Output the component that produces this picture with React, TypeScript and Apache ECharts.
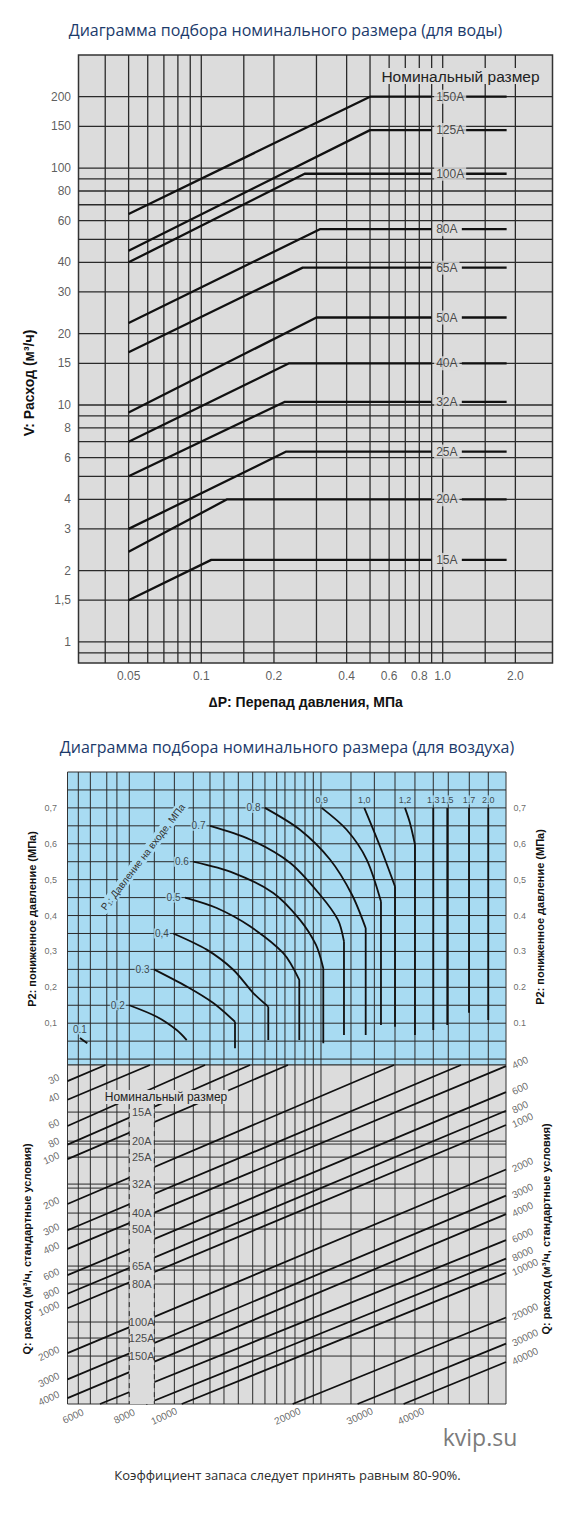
import React, { useEffect, useRef } from 'react';
import * as echarts from 'echarts';

const SANS = '"Liberation Sans", Arial, sans-serif';
const HEAD = '"Open Sans", "Noto Sans", sans-serif';
const INK = '#111111';
const GREY_BG = '#dcdcdc';
const BLUE_BG = '#a8dbf2';
const RULE = '#2a2a2a';

// ---------- water: flow V (m³/h) against pressure drop ΔP (MPa) ----------
const waterSizes = ['15A', '20A', '25A', '32A', '40A', '50A', '65A', '80A', '100A', '125A', '150A'];
const waterStartFlow = [1.5, 2.4, 3.0, 5.0, 7.0, 9.3, 16.7, 22.2, 40, 44.8, 64];
const waterKneeDp = [0.11, 0.128, 0.225, 0.221, 0.231, 0.3, 0.263, 0.31, 0.268, 0.5, 0.5];
const waterMaxFlow = [2.22, 4.0, 6.36, 10.3, 15, 23.4, 38, 55.2, 94.6, 144.6, 200];
const waterDpStart = 0.05;
const waterDpLabel = 0.9;
const waterDpTail = [1.2, 1.84];
const waterXRange = [0.031, 2.85];
const waterYRange = [0.815, 300];
const waterXTicks = [0.05, 0.1, 0.2, 0.4, 0.6, 0.8, 1.0, 2.0];
const waterXTickText = ['0.05', '0.1', '0.2', '0.4', '0.6', '0.8', '1.0', '2.0'];
const waterYTicks = [1, 1.5, 2, 3, 4, 6, 8, 10, 15, 20, 30, 40, 60, 80, 100, 150, 200];
const waterYTickText = ['1', '1,5', '2', '3', '4', '6', '8', '10', '15', '20', '30', '40', '60', '80', '100', '150', '200'];
const waterXRules = [0.04, 0.05, 0.06, 0.07, 0.08, 0.09, 0.1, 0.15, 0.2, 0.3, 0.4, 0.5, 0.6, 0.7, 0.8, 0.9, 1.0, 1.5, 2.0];
const waterYRules = [0.9, 1, 1.5, 2, 3, 4, 5, 6, 7, 8, 9, 10, 15, 20, 30, 40, 50, 60, 70, 80, 90, 100, 150, 200];

// ---------- air: shared horizontal scale of the nomogram ----------
const airXRange = [4898, 75845];
const airXRules = [5240, 5650, 6260, 6670, 7205, 8426, 9550, 10750, 11930, 13020, 14240, 15580, 16820, 18100,
  19060, 20290, 21600, 22750, 23870, 28790, 33320, 37910, 42940, 48150, 52880, 60300, 67900];

// upper panel: outlet pressure P2 (MPa) and inlet pressure curves P1
const p2Range = [-0.0165, 0.8];
const p2Rules = [0, 0.05, 0.1, 0.15, 0.2, 0.25, 0.3, 0.35, 0.4, 0.45, 0.5, 0.55, 0.6, 0.65, 0.7, 0.75];
const p2Ticks = [0.1, 0.2, 0.3, 0.4, 0.5, 0.6, 0.7];
const p2LeftText = ['0,1', '0,2', '0,3', '0,4', '0,5', '0,6', '0,7'];
const p2RightText = ['0.1', '0.2', '0.3', '0.4', '0,5', '0,6', '0,7'];
const p1Names = ['0.1', '0,2', '0.3', '0,4', '0.5', '0.6', '0.7', '0.8', '0,9', '1,0', '1,2', '1,3', '1,5', '1.7', '2.0'];
const p1LabelSide = ['top', 'left', 'left', 'left', 'left', 'left', 'left', 'left', 'top', 'top', 'top', 'top', 'top', 'top', 'top'];
const p1Curves: [number, number][][] = [
  [[5295, 0.059], [5543, 0.044]],
  [[7205, 0.15], [8552, 0.118], [9689, 0.081], [10316, 0.053]],
  [[8409, 0.25], [10316, 0.202], [12180, 0.156], [13949, 0.104]],
  [[9486, 0.35], [11688, 0.305], [13801, 0.249], [15637, 0.184], [17174, 0.146]],
  [[10207, 0.45], [12442, 0.421], [15320, 0.37], [18863, 0.295], [20844, 0.221]],
  [[10749, 0.55], [13801, 0.519], [17720, 0.463], [20935, 0.388], [23138, 0.318], [24217, 0.253]],
  [[11932, 0.65], [15320, 0.612], [19668, 0.547], [23722, 0.458], [26545, 0.388], [27559, 0.328]],
  [[16822, 0.7], [20935, 0.639], [25255, 0.556], [28973, 0.458], [31564, 0.365]],
  [[23976, 0.7], [28028, 0.639], [31762, 0.556], [34726, 0.439]],
  [[31289, 0.7], [34510, 0.593], [37909, 0.481]],
  [[40343, 0.7], [41623, 0.658], [42944, 0.598]],
  [[48153, 0.7]],
  [[52549, 0.7]],
  [[60188, 0.7]],
  [[67897, 0.7]],
];
// lowest P2 reached by the straight drop that ends each curve
const p1DropFoot: (number | null)[] = [null, null, 0.03, 0.053, 0.053, 0.044, 0.067, 0.067, 0.095, 0.09, 0.067, 0.081, 0.095, 0.129, 0.109];

// lower panel: valve size rows and flow Q isolines (m³/h, standard conditions)
const qRange = [23.4, 4385];
const qRightRange = [394, 76900];
const qBottomTickRange = [5800, 68000];
const airSizes = ['15A', '20A', '25A', '32A', '40A', '50A', '65A', '80A', '100A', '125A', '150A'];
const airSizeLevel = [48.4, 75.8, 97, 147.1, 230.1, 294.6, 521.4, 688.4, 1237, 1584, 2092];
const airPairedRules = [79.3, 156.5, 554.6];
const airLabelX = 7786;
const airColumn = [7205, 8426];
const airColumnTop = 42.8;
const qLeft = [30, 40, 60, 80, 100, 200, 300, 400, 600, 800, 1000, 2000, 3000, 4000];
const qBottom = [6000, 8000, 10000, 20000, 30000, 40000];
const qRight = [400, 600, 800, 1000, 2000, 3000, 4000, 6000, 8000, 10000, 20000, 30000, 40000];
const qTopExitX = [6210, 8200, 11570, 15320, 19420, 37680, 57250];
const qRightExitLevel = [23.8, 35.6, 47.4, 59.1, 117.5, 175.7, 233.7, 349.4, 464.9, 579.9, 1153, 1725, 2294];

type Pt = [number, number] | '-';

function rules(xs: number[], ys: number[], xr: number[], yr: number[]): Pt[] {
  const out: Pt[] = [];
  xs.forEach((v) => out.push([v, yr[0]], [v, yr[1]], '-'));
  ys.forEach((v) => out.push([xr[0], v], [xr[1], v], '-'));
  return out;
}

function lineSeries(xi: number, yi: number, data: Pt[], color: string, width: number, z: number, extra: any = {}) {
  return {
    type: 'line', xAxisIndex: xi, yAxisIndex: yi, data, z, silent: true,
    symbol: 'none', showSymbol: false, connectNulls: false,
    lineStyle: { color, width, ...(extra.lineStyle || {}) },
    emphasis: { disabled: true },
    smooth: extra.smooth || false,
  };
}

function textSeries(xi: number, yi: number, pts: [number, number][], texts: string[], label: any, z = 8, perItem?: any[]) {
  return {
    type: 'scatter', xAxisIndex: xi, yAxisIndex: yi, z, silent: true, clip: false,
    symbolSize: 1, itemStyle: { color: 'rgba(0,0,0,0)' },
    data: pts.map((p, i) => ({ name: texts[i], value: p, ...(perItem ? { label: perItem[i] } : {}) })),
    label: { show: true, formatter: '{b}', fontFamily: SANS, ...label },
    emphasis: { disabled: true },
  };
}

function caption(text: string, x: number, y: number, style: any, rotation = 0) {
  return {
    type: 'text', x, y, rotation, z: 100, silent: true,
    style: {
      text, align: 'center', verticalAlign: 'middle', textAlign: 'center', textVerticalAlign: 'middle',
      fontFamily: SANS, ...style,
    },
  };
}

function buildOption(): any {
  // water curves: rising part, flat part up to the size label, flat tail after it
  const waterLines: Pt[] = [];
  waterSizes.forEach((_, i) => {
    waterLines.push(
      [waterDpStart, waterStartFlow[i]], [waterKneeDp[i], waterMaxFlow[i]], [waterDpLabel, waterMaxFlow[i]], '-',
      [waterDpTail[0], waterMaxFlow[i]], [waterDpTail[1], waterMaxFlow[i]], '-',
    );
  });

  // inlet pressure curves
  const p1Lines: Pt[] = [];
  p1Curves.forEach((curve, i) => {
    curve.forEach((p) => p1Lines.push(p));
    p1Lines.push('-');
    const foot = p1DropFoot[i];
    if (foot != null) {
      const last = curve[curve.length - 1];
      p1Lines.push([last[0], last[1]], [last[0], foot], '-');
    }
  });

  // flow isolines
  const qLines: Pt[] = [];
  const nTop = qTopExitX.length;
  qLeft.forEach((q, i) => {
    const end: Pt = i < nTop ? [qTopExitX[i], qRange[0]] : [airXRange[1], qRightExitLevel[i - nTop]];
    qLines.push([airXRange[0], q], end, '-');
  });
  qBottom.forEach((q, j) => {
    qLines.push([q, qRange[1]], [airXRange[1], qRightExitLevel[qLeft.length - nTop + j]], '-');
  });

  const p1LabelStyle = p1LabelSide.map((side, i) => ({ position: side, fontSize: i >= 8 ? 9 : 10 }));

  return {
    animation: false,
    backgroundColor: '#ffffff',
    grid: [
      { left: 78.5, top: 55, width: 474, height: 608, show: true, backgroundColor: GREY_BG, borderColor: '#333', borderWidth: 1.5, outerBoundsMode: 'none' },
      { left: 67.5, top: 772, width: 438.5, height: 293, show: true, backgroundColor: BLUE_BG, borderColor: '#333', borderWidth: 1, outerBoundsMode: 'none' },
      { left: 67.5, top: 1065, width: 438.5, height: 339, show: true, backgroundColor: GREY_BG, borderColor: '#333', borderWidth: 1, outerBoundsMode: 'none' },
    ],
    xAxis: [
      { type: 'log', gridIndex: 0, min: waterXRange[0], max: waterXRange[1], show: false },
      { type: 'log', gridIndex: 1, min: airXRange[0], max: airXRange[1], show: false },
      { type: 'log', gridIndex: 2, min: airXRange[0], max: airXRange[1], show: false },
      // tick scale printed under the lower panel
      { type: 'log', gridIndex: 2, min: qBottomTickRange[0], max: qBottomTickRange[1], show: false },
    ],
    yAxis: [
      { type: 'log', gridIndex: 0, min: waterYRange[0], max: waterYRange[1], show: false },
      { type: 'value', gridIndex: 1, min: p2Range[0], max: p2Range[1], show: false },
      { type: 'log', gridIndex: 2, min: qRange[0], max: qRange[1], inverse: true, show: false },
      { type: 'log', gridIndex: 2, min: qRightRange[0], max: qRightRange[1], inverse: true, show: false, position: 'right' },
    ],
    series: [
      // ----- water -----
      lineSeries(0, 0, rules(waterXRules, waterYRules, waterXRange, waterYRange), RULE, 1.3, 1),
      lineSeries(0, 0, waterLines, INK, 2.3, 3),
      textSeries(0, 0, waterSizes.map((_, i) => [waterDpLabel, waterMaxFlow[i]] as [number, number]), waterSizes,
        { position: 'right', distance: 2, fontSize: 12, color: '#222', backgroundColor: GREY_BG, padding: [1, 2] }, 6),
      textSeries(0, 0, waterYTicks.map((v) => [waterXRange[0], v] as [number, number]), waterYTickText,
        { position: 'left', distance: 7, fontSize: 12, color: '#333' }),
      textSeries(0, 0, waterXTicks.map((v) => [v, waterYRange[0]] as [number, number]), waterXTickText,
        { position: 'bottom', distance: 6, fontSize: 12, color: '#333' }),

      // ----- air, upper panel -----
      lineSeries(1, 1, rules(airXRules, p2Rules, airXRange, p2Range), RULE, 1, 1),
      lineSeries(1, 1, p1Lines, INK, 1.8, 3, { smooth: 0.3 }),
      textSeries(1, 1, p1Curves.map((c) => c[0]), p1Names,
        { distance: 3, fontSize: 10, color: '#222', backgroundColor: BLUE_BG, padding: [0, 1] }, 6, p1LabelStyle),
      textSeries(1, 1, p2Ticks.map((v) => [airXRange[0], v] as [number, number]), p2LeftText,
        { position: 'left', distance: 10, fontSize: 9, color: '#444' }),
      textSeries(1, 1, p2Ticks.map((v) => [airXRange[1], v] as [number, number]), p2RightText,
        { position: 'right', distance: 7, fontSize: 9, color: '#444' }),

      // ----- air, lower panel -----
      lineSeries(2, 2, rules(airXRules, [...airSizeLevel, ...airPairedRules], airXRange, qRange), RULE, 1, 1),
      lineSeries(2, 2, qLines, INK, 1.8, 3),
      {
        type: 'custom', xAxisIndex: 2, yAxisIndex: 2, z: 5, silent: true,
        data: [[airColumn[0], airColumnTop, airColumn[1], qRange[1]]],
        encode: { x: [0, 2], y: [1, 3] },
        renderItem: (_params: any, api: any) => {
          const a = api.coord([api.value(0), api.value(1)]);
          const b = api.coord([api.value(2), api.value(3)]);
          return {
            type: 'rect',
            shape: { x: a[0], y: a[1], width: b[0] - a[0], height: b[1] - a[1] },
            style: { fill: GREY_BG },
          };
        },
      },
      lineSeries(2, 2, [[airColumn[0], airColumnTop], [airColumn[0], qRange[1]], '-', [airColumn[1], airColumnTop], [airColumn[1], qRange[1]]],
        RULE, 1, 6, { lineStyle: { type: [5, 4] } }),
      textSeries(2, 2, airSizeLevel.map((v) => [airLabelX, v] as [number, number]), airSizes,
        { position: 'inside', fontSize: 11, color: '#222' }, 7),
      textSeries(2, 2, qLeft.map((q) => [airXRange[0], q] as [number, number]), qLeft.map(String),
        { position: 'left', distance: 6, rotate: 25, offset: [0, -5], fontSize: 10, color: '#444' }),
      textSeries(2, 3, qRight.map((q) => [airXRange[1], q] as [number, number]), qRight.map(String),
        { position: 'right', distance: 6, rotate: 25, fontSize: 10, color: '#444' }),
      textSeries(3, 2, qBottom.map((q) => [q, qRange[1]] as [number, number]), qBottom.map(String),
        { position: 'bottom', distance: 8, rotate: 25, offset: [-2, -2], fontSize: 10, color: '#444' }),
    ],
    graphic: {
      elements: [
        caption('Диаграмма подбора номинального размера (для воды)', 285.5, 30, { fontFamily: HEAD, fontSize: 16, fill: '#1b3a6b' }),
        caption('Номинальный размер', 460.5, 76, { fontSize: 15.5, fill: '#222', backgroundColor: GREY_BG, padding: [0, 2] }),
        caption('V: Расход (м³/ч)', 29, 383, { fontSize: 14, fontWeight: 'bold', fill: '#111' }, Math.PI / 2),
        caption('∆P: Перепад давления, МПа', 306, 702, { fontSize: 14, fontWeight: 'bold', fill: '#111' }),

        caption('Диаграмма подбора номинального размера (для воздуха)', 287, 747, { fontFamily: HEAD, fontSize: 16, fill: '#1b3a6b' }),
        caption('P₁: Давление на входе, МПа', 143, 857, { fontSize: 10, fill: '#333', backgroundColor: BLUE_BG, padding: [1, 2] }, 0.916),
        caption('P2: пониженное давление (МПа)', 31.5, 919, { fontSize: 11, fontWeight: 'bold', fill: '#111' }, Math.PI / 2),
        caption('P2: пониженное давление (МПа)', 540, 917, { fontSize: 11, fontWeight: 'bold', fill: '#111' }, Math.PI / 2),
        caption('Номинальный размер', 166, 1097, { fontSize: 12, fill: '#222', backgroundColor: GREY_BG, padding: [1, 1] }),
        caption('Q: расход (м³/ч, стандартные условия)', 27, 1249, { fontSize: 11, fontWeight: 'bold', fill: '#111' }, Math.PI / 2),
        caption('Q: расход (м³/ч, стандартные условия)', 546, 1229, { fontSize: 11, fontWeight: 'bold', fill: '#111' }, Math.PI / 2),

        caption('kvip.su', 480, 1437, { fontFamily: HEAD, fontSize: 23, fill: '#7b7b7b' }),
        caption('Коэффициент запаса следует принять равным 80-90%.', 287.5, 1475, { fontFamily: HEAD, fontSize: 13, fill: '#2d2d2d' }),
      ],
    },
  };
}

export default function App() {
  const ref = useRef<HTMLDivElement>(null);
  useEffect(() => {
    const el = ref.current;
    if (!el) return;
    const chart = echarts.init(el, undefined, { renderer: 'svg' });
    chart.setOption(buildOption());
    return () => chart.dispose();
  }, []);
  return (
    <div
      ref={ref}
      style={{ position: 'absolute', left: 0, top: 0, width: 570, height: 1524, background: '#fff' }}
    />
  );
}
